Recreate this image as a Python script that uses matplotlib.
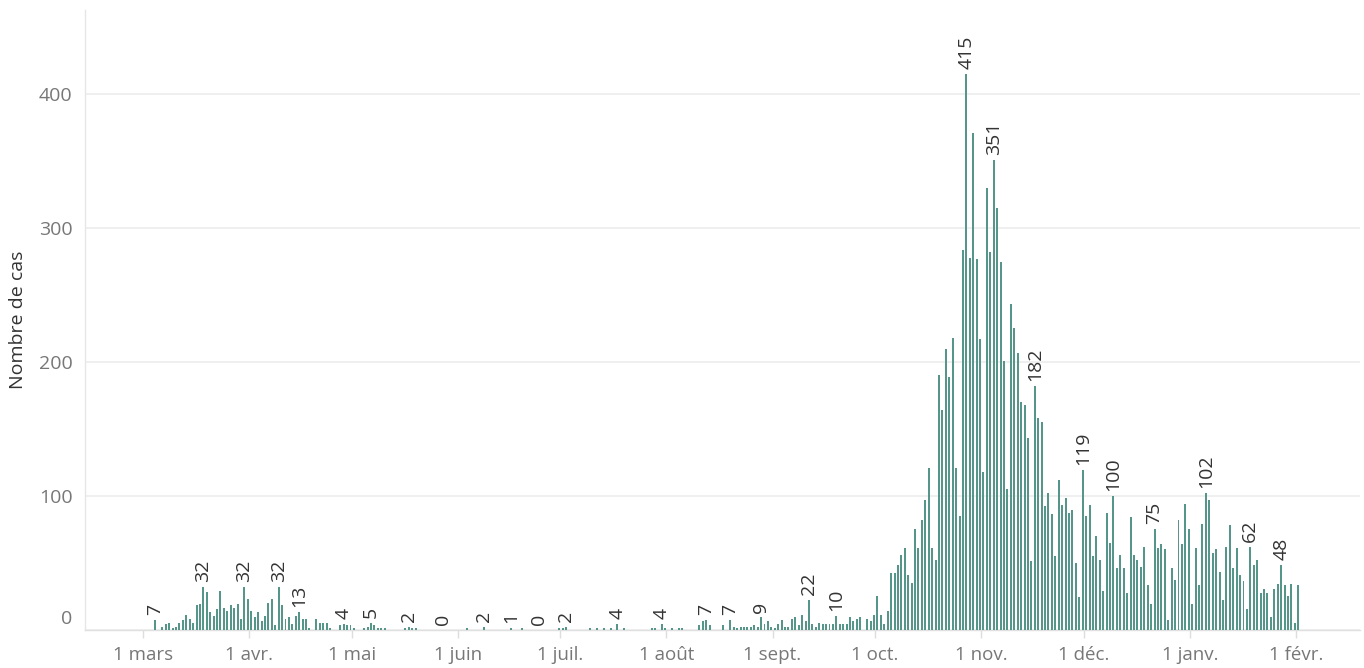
import numpy as np
import pandas as pd
import matplotlib
matplotlib.use("Agg")
import matplotlib.pyplot as plt
from matplotlib import transforms

# ---------------- data ----------------
start_date = "2020-03-04"
cases = [
    # March 4-31
    7, 0, 2, 4, 5, 1, 2, 5, 7, 11, 8, 5, 18, 19, 32, 28, 13, 10, 15, 29, 16, 14, 18, 16, 19, 8, 32, 23,
    # April
    14, 9, 13, 6, 10, 20, 23, 3, 32, 18, 8, 9, 4, 10, 13, 8, 8, 1, 0, 8, 5, 5, 5, 1, 0, 0, 3, 4, 3, 3,
    # May
    1, 0, 0, 1, 2, 5, 3, 1, 1, 1, 0, 0, 0, 0, 0, 1, 2, 1, 1, 0, 0, 0, 0, 0, 0, 0, 0, 0, 0, 0, 0,
    # June
    0, 0, 1, 0, 0, 0, 0, 2, 0, 0, 0, 0, 0, 0, 0, 1, 0, 0, 1, 0, 0, 0, 0, 0, 0, 0, 0, 0, 0, 1,
    # July
    1, 2, 0, 0, 0, 0, 0, 0, 1, 0, 1, 0, 1, 0, 1, 0, 4, 0, 1, 0, 0, 0, 0, 0, 0, 0, 1, 1, 0, 4, 1,
    # August
    0, 1, 0, 1, 1, 0, 0, 0, 0, 3, 6, 7, 3, 0, 0, 0, 3, 0, 7, 2, 1, 2, 2, 2, 2, 3, 2, 9, 4, 6, 2,
    # September
    1, 4, 7, 2, 2, 8, 9, 3, 11, 6, 22, 4, 2, 5, 4, 4, 4, 4, 10, 4, 4, 4, 9, 6, 8, 9, 0, 8, 6, 11,
    # October
    25, 11, 4, 14, 42, 42, 48, 56, 61, 41, 35, 75, 61, 82, 97, 121, 61, 52, 190, 164, 210, 189, 218,
    121, 85, 284, 415, 278, 371, 277, 217,
    # November
    118, 330, 282, 351, 315, 275, 201, 105, 243, 225, 207, 170, 168, 143, 51, 182, 158, 155, 92, 102,
    86, 55, 112, 93, 98, 87, 89, 50, 24, 119,
    # December
    85, 93, 55, 70, 52, 29, 87, 65, 100, 46, 56, 46, 27, 84, 56, 52, 47, 62, 33, 19, 75, 61, 64, 60,
    7, 46, 37, 82, 64, 94, 75,
    # January
    19, 61, 33, 79, 102, 97, 57, 60, 43, 22, 62, 78, 46, 61, 41, 36, 15, 62, 48, 52, 27, 30, 27, 9,
    30, 34, 48, 33, 25, 34, 5,
    # February 1
    33,
]

label_dates = [
    "2020-03-04", "2020-03-18", "2020-03-30", "2020-04-09", "2020-04-15", "2020-04-28",
    "2020-05-06", "2020-05-17", "2020-05-27", "2020-06-08", "2020-06-16", "2020-06-24",
    "2020-07-02", "2020-07-17", "2020-07-30", "2020-08-12", "2020-08-19", "2020-08-28",
    "2020-09-11", "2020-09-19", "2020-10-27", "2020-11-04", "2020-11-16", "2020-11-30",
    "2020-12-09", "2020-12-21", "2021-01-05", "2021-01-18", "2021-01-27",
]

month_ticks = ["2020-03-01", "2020-04-01", "2020-05-01", "2020-06-01", "2020-07-01", "2020-08-01",
               "2020-09-01", "2020-10-01", "2020-11-01", "2020-12-01", "2021-01-01", "2021-02-01"]
month_labels = ["1 mars", "1 avr.", "1 mai", "1 juin", "1 juil.", "1 août", "1 sept.",
                "1 oct.", "1 nov.", "1 déc.", "1 janv.", "1 févr."]

y_ticks = [0, 100, 200, 300, 400]
y_title = "Nombre de cas"

# ---------------- plotting ----------------
plt.rcParams["font.family"] = ["Open Sans", "DejaVu Sans"]

origin = pd.Timestamp("2020-03-01")
dates = pd.date_range(start_date, periods=len(cases), freq="D")
xpos = np.asarray((dates - origin).days, dtype=float) + 0.65
vals = np.asarray(cases, dtype=float)

W, H = 1364, 668
fig = plt.figure(figsize=(W / 100, H / 100), dpi=100)
ax = fig.add_axes([85 / W, (H - 629.5) / H, (1360 - 85) / W, (629.5 - 10) / H])

bar_color = "#55958a"
ax.bar(xpos, vals, width=0.58, color=bar_color, linewidth=0, zorder=3)

ax.set_xlim(-16.95, 355.7)
ax.set_ylim(0, 463)

# grid
ax.set_yticks(y_ticks)
ax.yaxis.grid(True, color="#ececec", linewidth=1.2, zorder=0)
ax.xaxis.grid(False)
ax.set_axisbelow(True)

for s in ["top", "right"]:
    ax.spines[s].set_visible(False)
ax.spines["left"].set_color("#e6e6e6")
ax.spines["bottom"].set_color("#e0e0e0")
ax.spines["left"].set_linewidth(1.0)
ax.spines["bottom"].set_linewidth(1.0)

# x ticks
tick_x = [(pd.Timestamp(t) - origin).days for t in month_ticks]
ax.set_xticks(tick_x)
ax.set_xticklabels(month_labels)
ax.tick_params(axis="x", length=6, width=1, color="#dddddd", pad=6,
               labelsize=13.5, labelcolor="#777777")
ax.tick_params(axis="y", length=0, pad=9, labelsize=14, labelcolor="#777777")

# shift "0" label upward like the reference
for lbl in ax.get_yticklabels():
    if lbl.get_text() in ("0",):
        lbl.set_transform(lbl.get_transform() +
                          transforms.ScaledTranslation(0, 13 / 100, fig.dpi_scale_trans))

ax.set_ylabel(y_title, fontsize=14, color="#333333")
ax.yaxis.set_label_coords((27 - 85) / (1360 - 85), 0.5)

# value labels
for ds in label_dates:
    d = pd.Timestamp(ds)
    i = (d - pd.Timestamp(start_date)).days
    xv = xpos[i]
    v = cases[i]
    ax.annotate(str(v), xy=(xv, v), xytext=(0, 3.5), textcoords="offset points",
                rotation=90, ha="center", va="bottom", fontsize=14, color="#333333",
                zorder=4)

fig.savefig("out.png", dpi=100)
